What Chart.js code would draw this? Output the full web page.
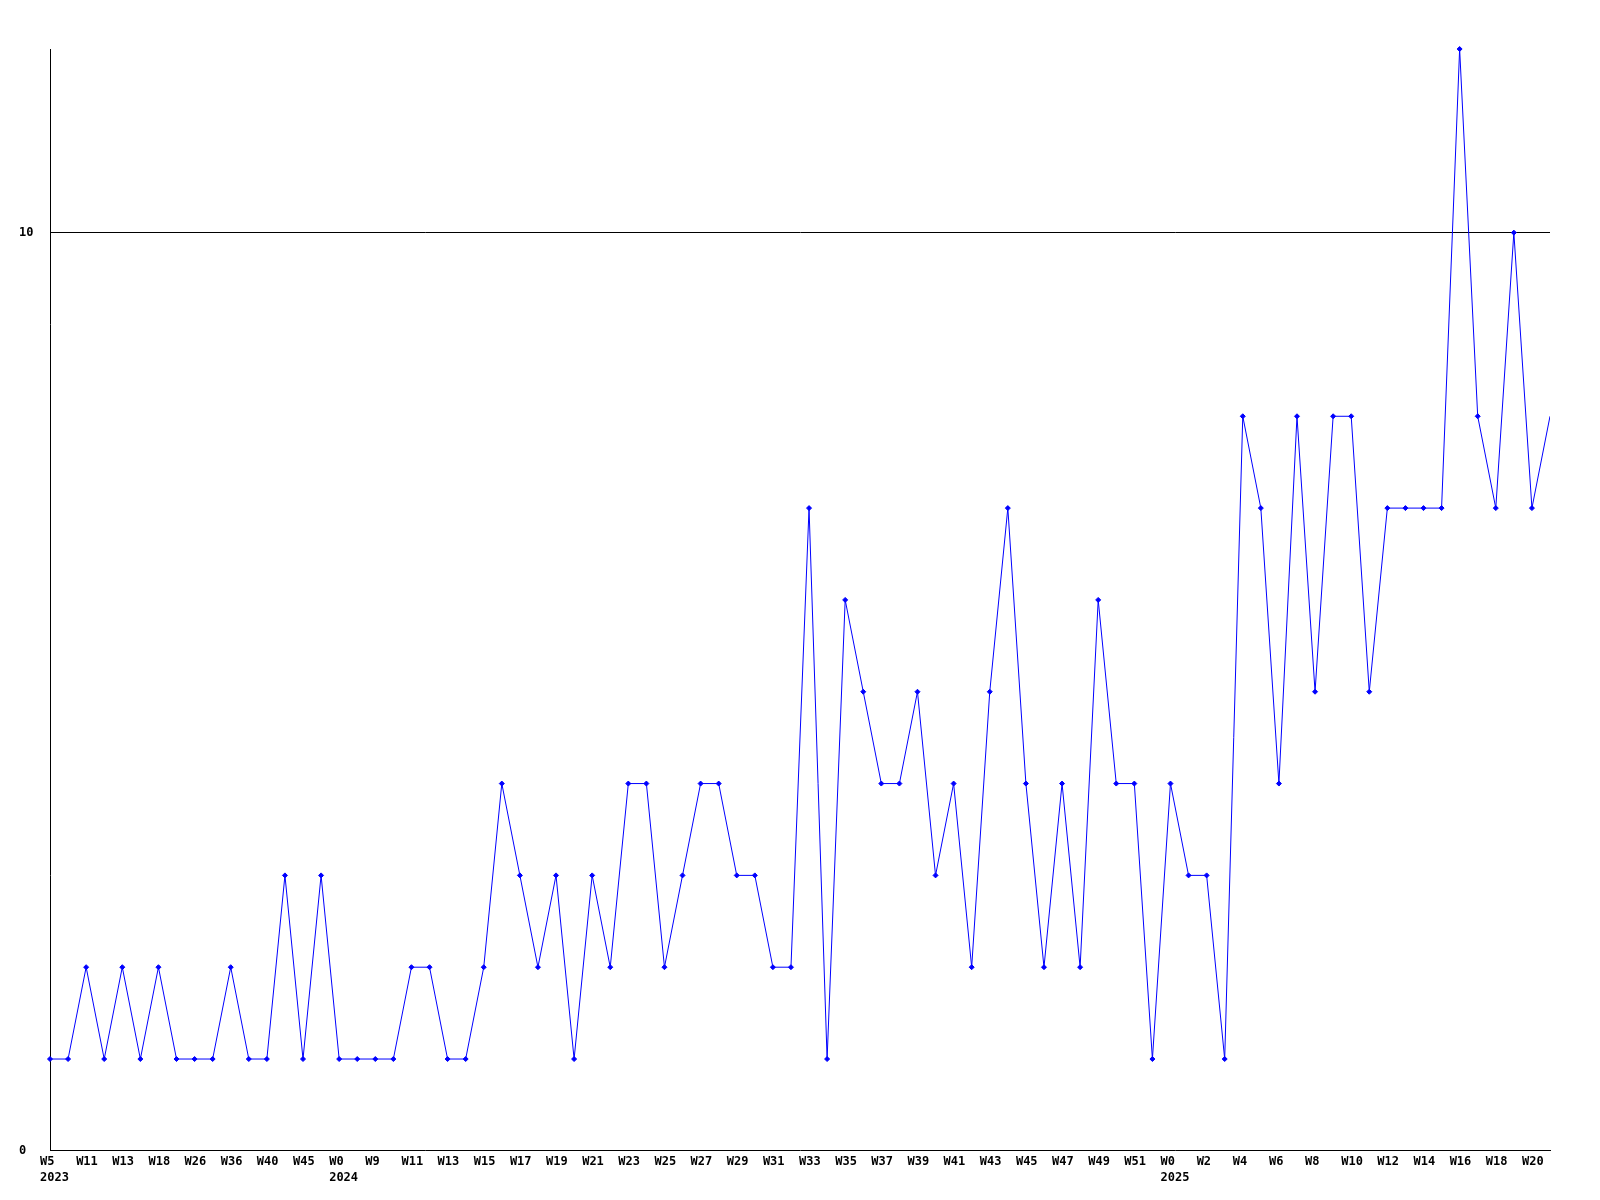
<!DOCTYPE html>
<html>
<head>
<meta charset="utf-8">
<script src="https://cdn.jsdelivr.net/npm/chart.js@4"></script>
<style>
  body { margin: 0; background: #fff; }
  #wrap { width: 1600px; height: 1200px; }
</style>
</head>
<body>
<div id="wrap"><canvas id="WeekChart"></canvas></div>
<script>
// weekly counts, one per point
const counts = [1, 1, 2, 1, 2, 1, 2, 1, 1, 1, 2, 1, 1, 3, 1, 3, 1, 1, 1, 1,
    2, 2, 1, 1, 2, 4, 3, 2, 3, 1, 3, 2, 4, 4, 2, 3, 4, 4, 3, 3,
    2, 2, 7, 1, 6, 5, 4, 4, 5, 3, 4, 2, 5, 7, 4, 2, 4, 2, 6, 4,
    4, 1, 4, 3, 3, 1, 8, 7, 4, 8, 5, 8, 8, 5, 7, 7, 7, 7, 12, 8,
    7, 10, 7, 8];

// labels shown on every second point
const tickLabels = ['W5', 'W11', 'W13', 'W18', 'W26', 'W36', 'W40', 'W45', 'W0', 'W9',
    'W11', 'W13', 'W15', 'W17', 'W19', 'W21', 'W23', 'W25', 'W27', 'W29',
    'W31', 'W33', 'W35', 'W37', 'W39', 'W41', 'W43', 'W45', 'W47', 'W49',
    'W51', 'W0', 'W2', 'W4', 'W6', 'W8', 'W10', 'W12', 'W14', 'W16',
    'W18', 'W20'];

// year shown under these points
const yearIndex = [0, 16, 62];
const yearLabels = ['2023', '2024', '2025'];

const yTicks = [0, 10];

const categories = counts.map(function(v, i) {
    if (i % 2) return '';
    const lbl = tickLabels[i / 2];
    const y = yearIndex.indexOf(i);
    return y >= 0 ? [lbl, yearLabels[y]] : lbl;
});

const tickFont = { family: 'DejaVu Sans Mono', size: 12, weight: 'bold', lineHeight: 1.34 };
const lastIdx = counts.length - 1;

document.addEventListener('DOMContentLoaded', function() {
const ctx = document.getElementById('WeekChart').getContext('2d');
const chart = new Chart(ctx, {
    type: 'line',
    data: {
        labels: categories,
        datasets: [{
            data: counts,
            borderColor: '#0000ff',
            backgroundColor: '#0000ff',
            borderWidth: 1,
            tension: 0,
            clip: { left: 5, right: 0, top: 5, bottom: 0 },
            pointStyle: 'rectRot',
            pointRadius: function(c) { return c.dataIndex === lastIdx ? 0 : 2.5; },
            pointBorderWidth: 1
        }]
    },
    options: {
        responsive: true,
        maintainAspectRatio: false,
        animation: false,
        layout: { padding: { left: 19, top: 49, right: 50, bottom: 11 } },
        plugins: {
            legend: { display: false },
            tooltip: { enabled: false }
        },
        scales: {
            x: {
                offset: false,
                grid: { display: false, drawTicks: false },
                border: { display: true, color: '#000', width: 1 },
                ticks: {
                    autoSkip: false,
                    maxRotation: 0,
                    minRotation: 0,
                    align: 'start',
                    labelOffset: -10,
                    padding: 3,
                    color: '#000',
                    font: tickFont
                }
            },
            y: {
                min: 0,
                max: 12,
                afterBuildTicks: function(scale) {
                    scale.ticks = yTicks.map(function(v) { return { value: v }; });
                },
                afterFit: function(scale) { scale.width = 31; },
                grid: {
                    drawTicks: false,
                    color: function(c) { return c.tick && c.tick.value === 10 ? '#000' : 'rgba(0,0,0,0)'; },
                    lineWidth: 1
                },
                border: { display: true, color: '#000', width: 1 },
                ticks: {
                    crossAlign: 'far',
                    padding: 0,
                    color: '#000',
                    font: tickFont
                }
            }
        }
    }
});
});
</script>
</body>
</html>
